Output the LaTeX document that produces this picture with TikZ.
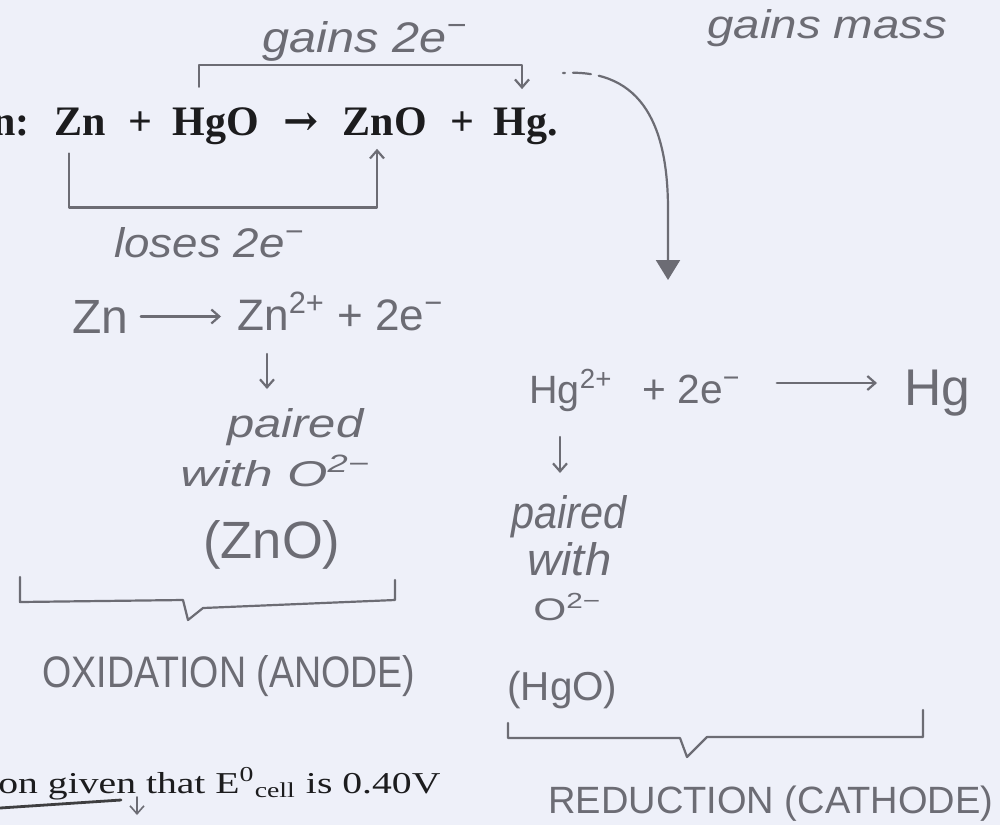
\documentclass[tikz,border=0pt]{standalone}
\usepackage{fontspec}
\setmainfont{Liberation Serif}
\newfontfamily\hwf{Liberation Sans}
\newfontfamily\arrf{DejaVu Serif}
\usetikzlibrary{arrows.meta}
\definecolor{paper}{RGB}{238,240,249}
\definecolor{ink}{RGB}{108,108,116}
\definecolor{printc}{RGB}{28,28,30}
\newlength\pxu \setlength\pxu{0.5pt}
\newcommand\fitw[2]{\resizebox{#1\pxu}{!}{#2}}
\newcommand\fitwh[3]{\resizebox{#1\pxu}{#2\pxu}{#3}}
\begin{document}
\begin{tikzpicture}[x=0.5pt,y=-0.5pt,
 hw/.style={inner sep=0pt, anchor=base west, text=ink, font=\hwf\fontsize{20}{24}\selectfont},
 hwi/.style={hw, font=\hwf\itshape\fontsize{20}{24}\selectfont},
 eq/.style={inner sep=0pt, anchor=base, text=printc, font=\bfseries\fontsize{21}{24}\selectfont},
 pr/.style={inner sep=0pt, anchor=base west, text=printc, font=\fontsize{16}{19}\selectfont},
 hwline/.style={draw=ink, line width=1.1pt, line join=round, line cap=round},
 hwarrow/.style={hwline, -{Straight Barb[length=4pt,width=7pt]}},
]
\useasboundingbox (0,0) rectangle (1000,825);
\fill[paper] (0,0) rectangle (1000,825);

% printed equation
\node[eq] (eqn) at (11,135) {n:};
\node[eq] (zn) at (80,135) {Zn};
\node[eq] (p1) at (140,135) {+};
\node[eq] (hgo) at (216,135) {HgO};
\node[eq] (ar) at (301,135) {\arrf\bfseries →};
\node[eq] (zno) at (385,135) {ZnO};
\node[eq] (p2) at (462,135) {+};
\node[eq] (hg) at (526,135) {Hg.};

% brackets on the equation
\draw[hwarrow] ([shift={(-17,-20)}]hgo.north) -- ++(0,-22) -| ([shift={(-4,-18)}]hg.north);
\draw[hwarrow] ([shift={(-11,18)}]zn.south) -- ++(0,54) -| ([shift={(-8,13)}]zno.south);

\node[hwi] (gains) at (262,52) {\fitwh{205}{31}{gains 2e\textsuperscript{−}}};
\node[hwi] (mass) at (707,38) {\fitwh{240}{29}{gains mass}};
\node[hwi] (loses) at (114,257) {\fitwh{190}{30}{loses 2e\textsuperscript{−}}};

% curved arrow
\coordinate (cstart) at (563,73);
\coordinate (ctip) at (668,280);
\draw[hwline, dash pattern={on 1pt off 4pt on 9pt off 4pt on 600pt}, -{Triangle[width=12pt,length=10pt]}]
  (cstart) .. controls (645,68) and (668,130) .. (668,210) -- (ctip);

% oxidation column
\node[hw] (zna) at (72,333) {\fitw{56}{Zn}};
\node[hw] (znb) at (237,330) {\fitw{206}{Zn\textsuperscript{2+} + 2e\textsuperscript{−}}};
\draw[hwarrow] ([xshift=6pt]zna.east) -- ([xshift=-8pt]zna.east -| znb.west);
\draw[hwarrow] ([shift={(30,24)}]znb.base west) -- ++(0,35);
\node[hwi] (pairl) at (227,437) {\fitwh{136}{29}{paired}};
\node[hwi] (withl) at (180,486) {\fitwh{190}{31}{with O\textsuperscript{2−}}};
\node[hw] (zno2) at (203,558) {\fitwh{137}{38}{(ZnO)}};
\draw[hwline] (20,577) -- (20,602) -- (183,600) -- (188,620) -- (203,608) -- (395,600) -- (395,580);
\node[hw] (ox) at (42,687) {\fitwh{373}{32}{OXIDATION (ANODE)}};

% reduction column
\node[hw] (hgi) at (529,403) {\fitw{83}{Hg\textsuperscript{2+}}};
\node[hw] (e2) at (642,403) {\fitw{98}{+ 2e\textsuperscript{−}}};
\node[hw] (hgm) at (904,405) {\fitw{66}{Hg}};
\draw[hwarrow] ([shift={(36,-20)}]e2.base east) -- ([shift={(-27,-22)}]hgm.base west);
\draw[hwarrow] ([shift={(31,34)}]hgi.base west) -- ++(0,36);
\node[hwi] (pairr) at (511,528) {\fitwh{115}{33}{paired}};
\node[hwi] (withr) at (527,575) {\fitwh{84}{33}{with}};
\node[hw] (o2r) at (533,620) {\fitwh{68}{27}{O\textsuperscript{2−}}};
\node[hw] (hgo2) at (507,700) {\fitw{110}{(HgO)}};
\draw[hwline] (508,723) -- (508,738) -- (680,738) -- (687,757) -- (707,737) -- (923,737) -- (923,710);
\node[hw] (red) at (548,813) {\fitw{445}{REDUCTION (CATHODE)}};

% printed bottom line
\node[pr] (given) at (-2,793) {\fitwh{442}{26}{on given that E\textsuperscript{0}\textsubscript{cell} is 0.40V}};
\draw[draw=printc!85, line width=1.4pt, line cap=round] ([shift={(2,15)}]given.base west) -- ([shift={(123,7)}]given.base west);
\draw[hwarrow, line width=0.8pt] ([shift={(139,4)}]given.base west) -- ++(0,18);
\end{tikzpicture}
\end{document}
